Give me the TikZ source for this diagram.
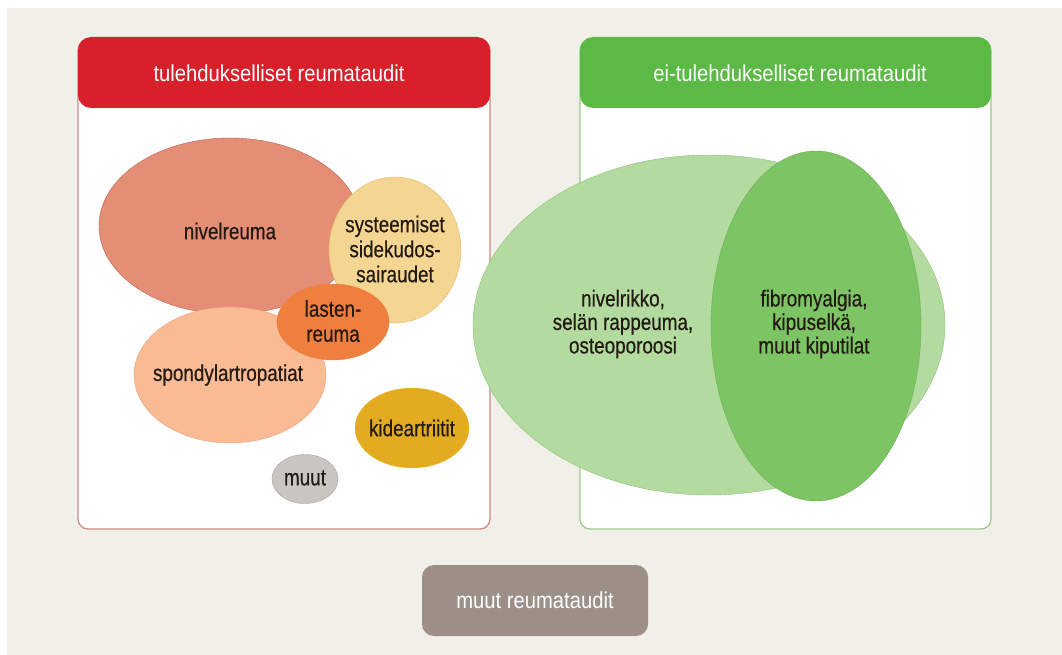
\documentclass[tikz,border=0pt]{standalone}
\usepackage{fontspec}
\setmainfont{Liberation Sans}
\newfontfamily\headfont[FakeStretch=0.88]{Liberation Sans}
\newfontfamily\labelfont[FakeStretch=0.82,FakeBold=0.5]{Liberation Sans}
\definecolor{bgbeige}{HTML}{F1F0E8}
\definecolor{headred}{HTML}{D7202A}
\definecolor{redline}{HTML}{CF8A84}
\definecolor{headgreen}{HTML}{5CB946}
\definecolor{greenline}{HTML}{9CC98B}
\definecolor{nivelfill}{HTML}{E58E76}
\definecolor{niveldraw}{HTML}{B86050}
\definecolor{sysfill}{HTML}{F4D591}
\definecolor{sysdraw}{HTML}{E3B96A}
\definecolor{lastenfill}{HTML}{EF7F3E}
\definecolor{spondfill}{HTML}{F8BB94}
\definecolor{sponddraw}{HTML}{EDA07C}
\definecolor{kidefill}{HTML}{E3AB1F}
\definecolor{kidedraw}{HTML}{F0C040}
\definecolor{muutfill}{HTML}{C9C5C1}
\definecolor{muutdraw}{HTML}{A8A29D}
\definecolor{lightgreen}{HTML}{B3DA9F}
\definecolor{lightgreendraw}{HTML}{8DC47C}
\definecolor{darkgreen}{HTML}{7DC464}
\definecolor{darkgreendraw}{HTML}{6DB055}
\definecolor{boxgray}{HTML}{9B8F88}
\definecolor{txtdark}{HTML}{231A14}
\tikzset{
  head/.style={text=white,font=\headfont\fontsize{23}{25}\selectfont},
  lbl/.style={text=txtdark,align=center,font=\labelfont\fontsize{23}{25}\selectfont},
  lblright/.style={lbl,font=\labelfont\fontsize{23}{23.5}\selectfont}
}

\begin{document}
\begin{tikzpicture}[x=1pt,y=-1pt]
\useasboundingbox (0,0) rectangle (1062,655);
\fill[white] (0,0) rectangle (1062,655);
\fill[bgbeige] (7,8) rectangle (1062,655);

% panels
\draw[redline,line width=1.3pt,fill=white,rounded corners=10pt] (78,40) rectangle (490,529);
\fill[headred,rounded corners=13pt] (78,37) rectangle (490,108);
\node[head] (lefthead) at (279,73) {tulehdukselliset reumataudit};

\draw[greenline,line width=1.3pt,fill=white,rounded corners=10pt] (580,40) rectangle (991,529);
\fill[headgreen,rounded corners=13pt] (580,37) rectangle (991,108);
\node[head] (righthead) at (790,73) {ei-tulehdukselliset reumataudit};

% inflammatory
\filldraw[fill=nivelfill,draw=niveldraw] (230,226) ellipse (131 and 88);
\filldraw[fill=sysfill,draw=sysdraw] (395,250) ellipse (66 and 73);
\filldraw[fill=spondfill,draw=sponddraw] (230,375) ellipse (96 and 68);
\filldraw[fill=lastenfill,draw=lastenfill] (333,322) ellipse (56 and 38);
\filldraw[fill=kidefill,draw=kidedraw] (412,428) ellipse (57 and 40);
\filldraw[fill=muutfill,draw=muutdraw] (305,479) ellipse (33 and 24.5);

\node[lbl] (nivel) at (230,231) {nivelreuma};
\node[lbl] (sys) at (395,249) {systeemiset\\sidekudos-\\sairaudet};
\node[lbl] (lasten) at (333,321) {lasten-\\reuma};
\node[lbl] (spond) at (228,375) {spondylartropatiat};
\node[lbl] (kide) at (412,428) {kideartriitit};
\node[lbl] (muut) at (305,478) {muut};

% non-inflammatory
\filldraw[fill=lightgreen,draw=lightgreendraw] (709,325) ellipse (236 and 170);
\filldraw[fill=darkgreen,draw=darkgreendraw] (816,326) ellipse (105 and 175);
\node[lblright] (nivelrikko) at (623,324) {nivelrikko,\\selän rappeuma,\\osteoporoosi};
\node[lblright] (fibro) at (814,324) {fibromyalgia,\\kipuselkä,\\muut kiputilat};

% others
\fill[boxgray,rounded corners=12pt] (422,565) rectangle (648,636);
\node[head] (muutreuma) at (535,600) {muut reumataudit};
\end{tikzpicture}
\end{document}
